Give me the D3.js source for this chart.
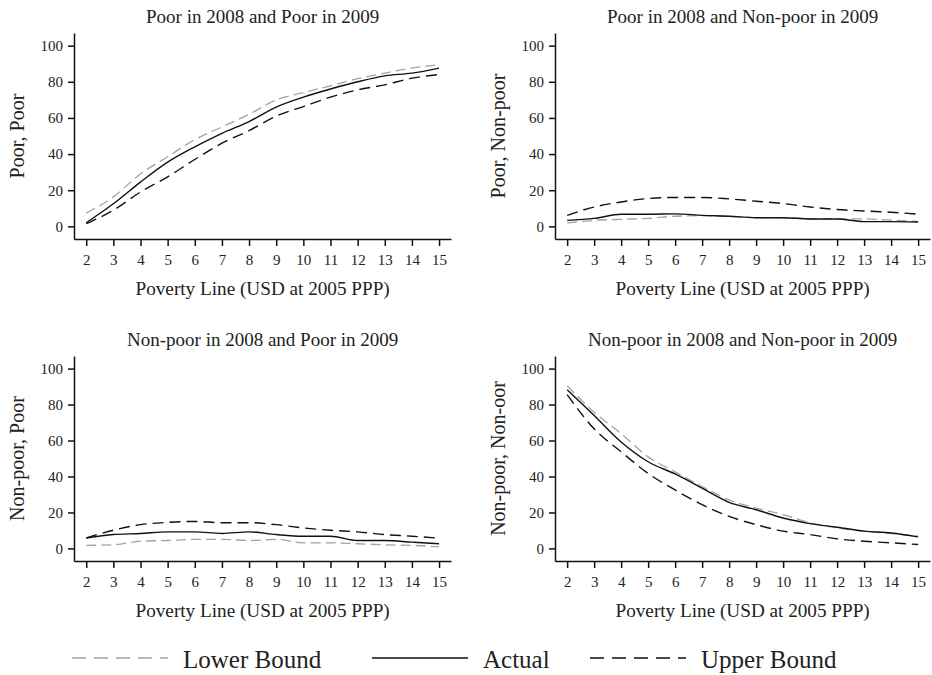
<!DOCTYPE html>
<html>
<head>
<meta charset="utf-8">
<script src="https://cdn.jsdelivr.net/npm/d3@7"></script>
<style>
  body { margin: 0; background: #fff; }
  svg { display: block; font-family: "Liberation Serif", "Times New Roman", serif; }
  .axis path, .axis line { stroke: #111; stroke-width: 1.5; }
  .axis text { font-family: "Liberation Serif", serif; font-size: 15px; fill: #222; }
</style>
</head>
<body>
<svg id="chart" width="932" height="675"></svg>
<script>

// 貧困線 (x 軸)
const povertyLines = [2, 3, 4, 5, 6, 7, 8, 9, 10, 11, 12, 13, 14, 15];
const yTicks = [0, 20, 40, 60, 80, 100];

// パネルのタイトル・軸ラベル
const titles = [
  "Poor in 2008 and Poor in 2009",
  "Poor in 2008 and Non-poor in 2009",
  "Non-poor in 2008 and Poor in 2009",
  "Non-poor in 2008 and Non-poor in 2009"
];
const yLabels = ["Poor, Poor", "Poor, Non-poor", "Non-poor, Poor", "Non-poor, Non-oor"];
const xLabel = "Poverty Line (USD at 2005 PPP)";

// Poor / Poor
const ppLower  = [7.4, 16.3, 29, 38.5, 48, 55, 62, 70, 74, 77.8, 81.7, 84.8, 87.6, 89.4];
const ppActual = [2, 12.5, 24.5, 35.5, 44, 51.5, 58, 66, 71.5, 76, 80, 83.3, 84.8, 87.6];
const ppUpper  = [1.5, 8.9, 19, 27.4, 37, 46, 53, 61, 66.3, 71.5, 75.5, 78.3, 82, 84];

// Poor / Non-poor
const pnLower  = [1.9, 3.3, 3.9, 4.4, 5.6, 5.9, 5.6, 4.8, 4.8, 4.1, 4.1, 4.1, 3.4, 2.8];
const pnActual = [3.3, 4.4, 6.7, 6.7, 6.9, 6.1, 5.6, 4.8, 4.8, 4.1, 4.1, 2.6, 2.6, 2.4];
const pnUpper  = [6.1, 10.7, 13.5, 15.4, 16, 16, 15.2, 13.9, 12.6, 10.7, 9.3, 8.5, 7.8, 6.7];

// Non-poor / Poor
const npLower  = [1.7, 2, 4, 4.4, 5, 5, 4.4, 5, 3.1, 3.1, 2.6, 2, 1.7, 0.9];
const npActual = [5.7, 7.7, 8.3, 9.2, 9.2, 8.3, 9.2, 7.7, 6.8, 6.8, 4.4, 4.4, 3.5, 2.6];
const npUpper  = [5.9, 10.1, 13.2, 14.5, 15, 14.3, 14.3, 13.2, 11.4, 10.1, 9.2, 7.7, 6.8, 5.7];

// Non-poor / Non-poor
const nnLower  = [90.4, 75.7, 63.8, 50.9, 42.6, 34.4, 27, 22.4, 18.8, 14.2, 11.4, 9.6, 8.3, 6.8];
const nnActual = [88.2, 73.9, 59.2, 48.2, 41.4, 33.5, 25.6, 21.5, 16.9, 13.8, 11.8, 9.6, 8.6, 6.4];
const nnUpper  = [85.5, 66.5, 53.7, 41.7, 32.5, 24.3, 17.8, 13.2, 9.6, 7.7, 5.3, 4, 3.1, 2.2];

const seriesNames = ["Lower Bound", "Actual", "Upper Bound"];

// 線のスタイル
const styles = {
  "Lower Bound": { color: "#a3a3a3", dash: "10,5", width: 1.3 },
  "Actual":      { color: "#111",    dash: null,   width: 1.4 },
  "Upper Bound": { color: "#111",    dash: "11,6", width: 1.4 }
};

const panels = [
  { series: [ppLower, ppActual, ppUpper], left: 74,  right: 451, top: 33,  bottom: 239 },
  { series: [pnLower, pnActual, pnUpper], left: 555, right: 930, top: 33,  bottom: 239 },
  { series: [npLower, npActual, npUpper], left: 74,  right: 451, top: 356, bottom: 561 },
  { series: [nnLower, nnActual, nnUpper], left: 555, right: 930, top: 356, bottom: 561 }
];

const svg = d3.select("#chart");

panels.forEach((p, pi) => {

  // 軸の範囲は目盛りの外側まで伸ばす
  const x = d3.scaleLinear().domain([1.55, 15.44]).range([p.left, p.right]);
  const y = d3.scaleLinear().domain([-7, 107]).range([p.bottom, p.top]);

  const g = svg.append("g").attr("class", "panel");

  g.append("g")
    .attr("class", "axis")
    .attr("transform", `translate(0,${p.bottom})`)
    .call(d3.axisBottom(x).tickValues(povertyLines).tickSize(7).tickSizeOuter(0).tickPadding(8));

  g.append("g")
    .attr("class", "axis")
    .attr("transform", `translate(${p.left},0)`)
    .call(d3.axisLeft(y).tickValues(yTicks).tickSize(6).tickSizeOuter(0).tickPadding(5));

  const cx = (x(2) + x(15)) / 2;

  // タイトル
  g.append("text")
    .attr("x", cx)
    .attr("y", p.top - 10)
    .attr("text-anchor", "middle")
    .attr("font-size", "19px")
    .attr("fill", "#222")
    .text(titles[pi]);

  // x 軸ラベル
  g.append("text")
    .attr("x", cx)
    .attr("y", p.bottom + 56)
    .attr("text-anchor", "middle")
    .attr("font-size", "19.2px")
    .attr("fill", "#222")
    .text(xLabel);

  // y 軸ラベル
  const cy = (y(0) + y(100)) / 2;
  g.append("text")
    .attr("transform", `translate(${p.left - 50},${cy}) rotate(-90)`)
    .attr("text-anchor", "middle")
    .attr("font-size", "20px")
    .attr("fill", "#222")
    .text(yLabels[pi]);

  const line = d3.line()
    .x((d, i) => x(povertyLines[i]))
    .y(d => y(d))
    .curve(d3.curveMonotoneX);

  p.series.forEach((vals, si) => {
    const st = styles[seriesNames[si]];
    g.append("path")
      .datum(vals)
      .attr("fill", "none")
      .attr("stroke", st.color)
      .attr("stroke-width", st.width)
      .attr("stroke-dasharray", st.dash)
      .attr("d", line);
  });
});

// レジェンド
const legendItems = [
  { name: "Lower Bound", x0: 72,  x1: 168 },
  { name: "Actual",      x0: 372, x1: 468 },
  { name: "Upper Bound", x0: 590, x1: 686 }
];
const lg = svg.append("g").attr("class", "legend");
legendItems.forEach(it => {
  const st = styles[it.name];
  lg.append("line")
    .attr("x1", it.x0).attr("x2", it.x1)
    .attr("y1", 658).attr("y2", 658)
    .attr("stroke", st.color)
    .attr("stroke-width", 1.5)
    .attr("stroke-dasharray", st.dash ? "14,8" : null);
  lg.append("text")
    .attr("x", it.x1 + 15)
    .attr("y", 668)
    .attr("font-size", "25px")
    .attr("fill", "#222")
    .text(it.name);
});

</script>
</body>
</html>
